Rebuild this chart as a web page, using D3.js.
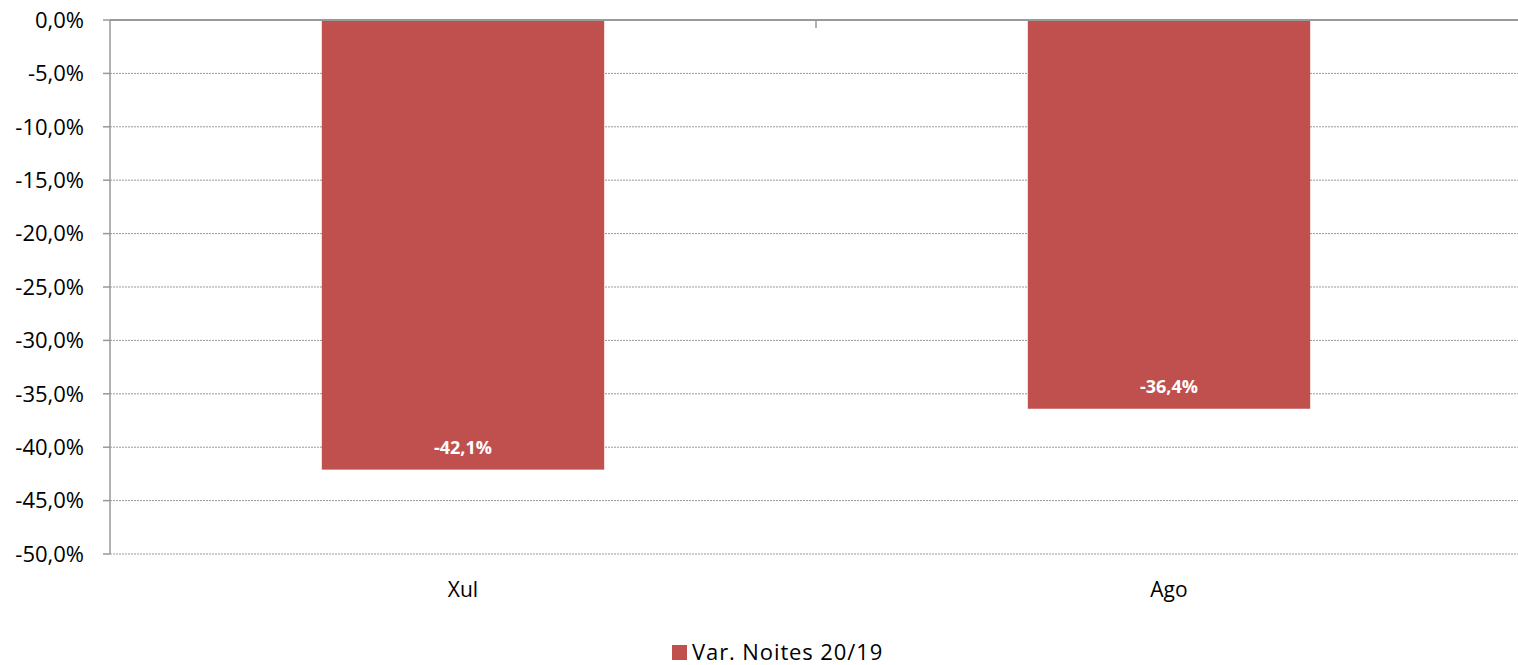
<!DOCTYPE html>
<html>
<head>
<meta charset="utf-8">
<script src="https://cdn.jsdelivr.net/npm/d3@7"></script>
<style>
body { margin: 0; background: #fff; }
svg { font-family: "Open Sans", "Noto Sans", sans-serif; }
</style>
</head>
<body>
<script>
var categories = ["Xul", "Ago"];
var values = [-42.1, -36.4];
var yTicks = [0, -5, -10, -15, -20, -25, -30, -35, -40, -45, -50];
var seriesName = "Var. Noites 20/19";

var width = 1518, height = 665;
var plotLeft = 110, plotRight = 1522, plotTop = 20, plotBottom = 554;
var svg = d3.select("body").append("svg").attr("width", width).attr("height", height);

var x = d3.scaleBand().domain(categories).range([plotLeft, plotRight]).paddingInner(0).paddingOuter(0);
var y = d3.scaleLinear().domain([-50, 0]).range([plotBottom, plotTop]);
var fmt = function(v){ return d3.format(".1f")(v).replace(".", ",").replace("−", "-") + "%"; };
var col = "#c0504d";

// gridlines
svg.append("g").selectAll("line").data(yTicks.filter(function(d){ return d !== 0; }))
  .enter().append("line")
  .attr("x1", plotLeft).attr("x2", plotRight)
  .attr("y1", function(d){ return y(d); }).attr("y2", function(d){ return y(d); })
  .attr("stroke", "#999").attr("stroke-width", 1).attr("stroke-dasharray", "2,1");

// y tick marks + labels
var yt = svg.append("g");
yt.selectAll("line").data(yTicks).enter().append("line")
  .attr("x1", plotLeft - 7).attr("x2", plotLeft)
  .attr("y1", function(d){ return y(d); }).attr("y2", function(d){ return y(d); })
  .attr("stroke", "#999").attr("stroke-width", 1.5);
yt.selectAll("text").data(yTicks).enter().append("text")
  .attr("x", 84).attr("y", function(d){ return y(d); }).attr("dy", "0.35em")
  .attr("text-anchor", "end").attr("font-size", 22).attr("fill", "#000")
  .text(fmt);

// bars
svg.append("g").selectAll("rect").data(values).enter().append("rect")
  .attr("x", function(d, i){ return x(categories[i]) + x.bandwidth() * 0.3; })
  .attr("width", x.bandwidth() * 0.4)
  .attr("y", y(0))
  .attr("height", function(d){ return y(d) - y(0); })
  .attr("fill", col);

// data labels
svg.append("g").selectAll("text").data(values).enter().append("text")
  .attr("x", function(d, i){ return x(categories[i]) + x.bandwidth() / 2; })
  .attr("y", function(d){ return y(d) - 22; }).attr("dy", "0.35em")
  .attr("text-anchor", "middle").attr("font-size", 18).attr("font-weight", "bold")
  .attr("fill", "#fff").text(fmt);

// axes lines
svg.append("line").attr("x1", plotLeft).attr("x2", plotLeft).attr("y1", plotTop).attr("y2", plotBottom)
  .attr("stroke", "#999").attr("stroke-width", 1.5);
svg.append("line").attr("x1", plotLeft).attr("x2", plotRight).attr("y1", y(0)).attr("y2", y(0))
  .attr("stroke", "#999").attr("stroke-width", 2);
// category separator tick
svg.append("line").attr("x1", x("Ago")).attr("x2", x("Ago")).attr("y1", y(0)).attr("y2", y(0) + 8)
  .attr("stroke", "#999").attr("stroke-width", 1.5);

// category labels
svg.append("g").selectAll("text").data(categories).enter().append("text")
  .attr("x", function(d){ return x(d) + x.bandwidth() / 2; })
  .attr("y", 590).attr("dy", "0.35em")
  .attr("text-anchor", "middle").attr("font-size", 21).attr("fill", "#000")
  .text(function(d){ return d; });

// legend
var lg = svg.append("g");
lg.append("rect").attr("x", 672).attr("y", 645).attr("width", 15).attr("height", 15).attr("fill", col);
lg.append("text").attr("x", 692).attr("y", 652).attr("dy", "0.35em")
  .attr("font-size", 22).attr("letter-spacing", 0.9).attr("fill", "#000").text(seriesName);
</script>
</body>
</html>
